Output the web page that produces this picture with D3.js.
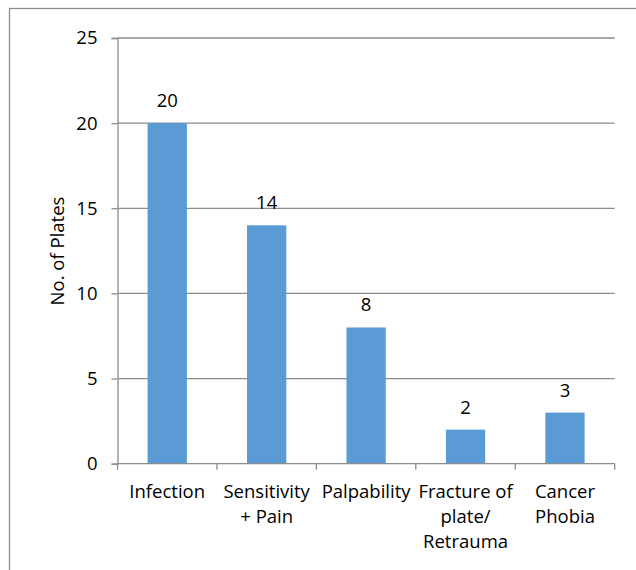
<!DOCTYPE html>
<html><head><meta charset="utf-8">
<script src="https://cdn.jsdelivr.net/npm/d3@7"></script>
<style>
html,body{margin:0;padding:0;background:#fff;}
svg{display:block;font-family:"Open Sans",sans-serif;}
</style></head>
<body>
<svg id="chart" width="636" height="570"></svg>
<script>
const categories = ["Infection", "Sensitivity + Pain", "Palpability", "Fracture of plate/ Retrauma", "Cancer Phobia"];
const categoryLines = [["Infection"], ["Sensitivity", "+ Pain"], ["Palpability"], ["Fracture of", "plate/", "Retrauma"], ["Cancer", "Phobia"]];
const values = [20, 14, 8, 2, 3];
const yTicks = [0, 5, 10, 15, 20, 25];
const yTitle = "No. of Plates";

const svg = d3.select("#chart");
const fs = 18.5;

// outer chart border
svg.append("rect").attr("x", 9.5).attr("y", 8.5).attr("width", 640).attr("height", 580)
  .attr("fill", "#fff").attr("stroke", "#8e8e8e").attr("stroke-width", 1.3);

const x = d3.scaleBand().domain(categories).range([117.5, 614.7]).paddingInner(0.605).paddingOuter(0.3025);
const y = d3.scaleLinear().domain([0, 25]).range([463.7, 38]);

// gridlines
svg.append("g").selectAll("line").data(yTicks.filter(d => d > 0)).join("line")
  .attr("x1", 117.5).attr("x2", 614.7)
  .attr("y1", d => y(d)).attr("y2", d => y(d))
  .attr("stroke", "#8c8c8c").attr("stroke-width", 1.3);

// y axis
const yAxis = svg.append("g").attr("transform", "translate(117.5,0)")
  .call(d3.axisLeft(y).tickValues(yTicks).tickSize(6).tickPadding(14));
yAxis.select(".domain").attr("stroke", "#8c8c8c").attr("stroke-width", 1.3);
yAxis.selectAll(".tick line").attr("stroke", "#8c8c8c").attr("stroke-width", 1.3);
yAxis.selectAll(".tick text").attr("font-size", fs).attr("font-family", "Open Sans").attr("fill", "#000");

// bars
svg.append("g").selectAll("rect").data(values).join("rect")
  .attr("x", (d, i) => x(categories[i]))
  .attr("width", x.bandwidth())
  .attr("y", d => y(d))
  .attr("height", d => y(0) - y(d))
  .attr("fill", "#5B9BD5");

// x axis
const step = (614.7 - 117.5) / categories.length;
const xAxisG = svg.append("g");
xAxisG.append("line").attr("x1", 117.5).attr("x2", 614.7).attr("y1", y(0)).attr("y2", y(0))
  .attr("stroke", "#8c8c8c").attr("stroke-width", 1.3);
xAxisG.selectAll("line.tk").data(d3.range(categories.length + 1)).join("line").attr("class", "tk")
  .attr("x1", i => 117.5 + i * step).attr("x2", i => 117.5 + i * step)
  .attr("y1", y(0)).attr("y2", y(0) + 6)
  .attr("stroke", "#8c8c8c").attr("stroke-width", 1.3);

const labels = svg.append("g").selectAll("text").data(categoryLines).join("text")
  .attr("text-anchor", "middle").attr("font-size", fs).attr("fill", "#000")
  .attr("transform", (d, i) => `translate(${x(categories[i]) + x.bandwidth() / 2},498)`);
labels.selectAll("tspan").data(d => d).join("tspan")
  .attr("x", 0).attr("y", (d, j) => j * 25).text(d => d);

// data labels
svg.append("g").selectAll("text").data(values).join("text")
  .attr("x", (d, i) => x(categories[i]) + x.bandwidth() / 2)
  .attr("y", d => y(d) - 16)
  .attr("text-anchor", "middle").attr("font-size", fs).attr("fill", "#000")
  .text(d => d);

// y title
svg.append("text").attr("transform", "translate(64,251) rotate(-90)")
  .attr("text-anchor", "middle").attr("font-size", fs).attr("fill", "#000")
  .text(yTitle);
</script>
</body></html>
